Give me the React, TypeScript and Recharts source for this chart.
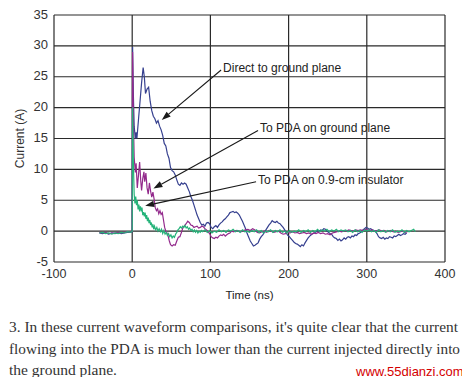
import React from 'react';
import {
  LineChart,
  Line,
  XAxis,
  YAxis,
  CartesianGrid,
  ReferenceLine,
} from 'recharts';

// [time (ns), current (A)]
const directToGround: [number, number][] = [
  [-42, -0.3], [-38, -0.4], [-34, -0.3], [-30, -0.5], [-26, -0.3], [-22, -0.4], [-18, -0.2], [-14, -0.4],
  [-10, -0.3], [-6, -0.2], [-2, -0.2], [0, -0.1], [0.5, 29.8], [1.5, 22], [2.5, 17], [4, 15], [5, 16],
  [6, 15], [8, 18], [10, 21], [12, 24], [14, 26.5], [15.5, 25], [17, 22.3], [19, 23], [21, 23.3], [23, 21],
  [25, 19.5], [27, 18.6], [29, 18.2], [31, 17.5], [33, 17.9], [35, 17], [37, 16.4], [39, 15.5], [41, 14.2],
  [43, 13.8], [45, 12.5], [47, 11.8], [49, 10.3], [51, 9.8], [53, 9.6], [55, 9.1], [57, 8.3], [59, 7.6],
  [61, 7.4], [63, 7.8], [65, 7.6], [67, 7.8], [69, 7.6], [71, 7.0], [73, 6.4], [75, 5.6], [77, 5.0],
  [79, 4.2], [81, 3.4], [83, 2.6], [85, 2.0], [87, 1.4], [89, 1.0], [91, 1.1], [93, 0.8], [95, 1.3],
  [97, 1.4], [99, 1.2], [101, 0.6], [103, 0.4], [105, 0.7], [107, 0.9], [109, 0.6], [111, 1.0], [113, 1.3],
  [115, 1.5], [117, 1.8], [119, 2.0], [121, 2.3], [123, 2.6], [125, 3.0], [127, 3.1], [129, 3.2], [131, 3.0],
  [133, 3.1], [135, 2.9], [137, 2.6], [139, 2.1], [141, 1.6], [143, 1.0], [145, 0.4], [147, -0.4], [149, -1.0],
  [151, -1.6], [153, -2.0], [155, -2.4], [157, -2.3], [159, -2.1], [161, -1.9], [163, -1.3], [165, -0.9],
  [167, -0.6], [169, -0.2], [171, 0.2], [173, 0.6], [175, 1.0], [177, 1.3], [179, 1.7], [181, 1.5], [183, 1.4],
  [185, 1.6], [187, 1.3], [189, 1.2], [191, 0.9], [193, 0.6], [195, 0.2], [197, -0.3], [199, -0.7], [201, -0.9],
  [203, -1.2], [205, -1.5], [207, -1.8], [209, -2.0], [211, -2.1], [213, -2.3], [215, -2.5], [217, -2.2],
  [219, -2.4], [221, -1.9], [223, -1.5], [225, -1.1], [227, -0.8], [229, -0.6], [231, -0.4], [233, -0.3],
  [235, -0.1], [237, 0.1], [239, 0.0], [241, 0.2], [243, 0.1], [245, 0.4], [247, 0.3], [249, 0.0], [251, -0.2],
  [253, -0.4], [255, -0.5], [257, -0.9], [259, -1.1], [261, -1.2], [263, -1.5], [265, -1.3], [267, -1.6],
  [269, -1.4], [271, -1.1], [273, -1.3], [275, -1.0], [277, -0.9], [279, -1.1], [281, -0.8], [283, -0.9],
  [285, -0.6], [287, -0.7], [289, -0.4], [291, -0.3], [293, -0.1], [295, 0.2], [297, 0.4], [299, 0.6],
  [301, 0.5], [303, 0.3], [305, 0.4], [307, 0.2], [309, 0.1], [311, 0.0], [313, -0.4], [315, -0.9], [317, -1.1],
  [319, -1.2], [321, -1.0], [323, -1.3], [325, -1.1], [327, -1.2], [329, -0.9], [331, -1.0], [333, -1.1],
  [335, -0.8], [337, -0.9], [339, -0.7], [341, -0.5], [343, -0.7], [345, -0.6], [347, -0.4], [349, -0.5],
  [351, -0.3],
];

const pdaOnGround: [number, number][] = [
  [-42, -0.2], [-38, -0.3], [-34, -0.2], [-30, -0.4], [-26, -0.3], [-22, -0.3], [-18, -0.2], [-14, -0.3],
  [-10, -0.2], [-6, -0.1], [-2, -0.2], [0, 0], [0.5, 29], [1.5, 18], [2.5, 12], [4, 9.5], [5, 11], [6.5, 7],
  [8, 9], [9.5, 11.2], [11, 8], [12, 6.6], [13.5, 8.5], [15, 9.6], [16, 8], [17.5, 9.4], [19, 7], [20.5, 6],
  [22, 7.8], [23.5, 6.5], [25, 5.5], [26.5, 6.3], [28, 5.2], [29.5, 3.8], [31, 3.3], [32.5, 3.6], [34, 2.8],
  [35.5, 3.3], [37, 2.7], [38.5, 3.0], [40, 1.8], [41.5, 0.6], [43, 0.0], [44.5, -0.3], [46, -0.8],
  [47.5, -1.6], [49, -2.2], [51, -2.4], [53, -2.2], [55, -2.3], [57, -1.6], [59, -1.0], [61, -0.9], [63, -0.2],
  [65, 0.6], [67, 0.9], [69, 1.2], [71, 1.6], [73, 1.4], [75, 1.0], [77, 0.9], [79, 0.6], [81, 0.7], [83, 0.8],
  [85, 0.5], [87, 0.6], [89, 0.8], [91, 0.7], [93, 0.4], [95, 0.2], [97, -0.1], [99, -0.4], [101, -0.9],
  [103, -1.1], [105, -1.2], [107, -1.0], [109, -1.1], [111, -0.8], [113, -0.6], [115, -0.7], [117, -0.5],
  [119, -0.8], [121, -0.6], [123, -0.4], [125, -0.3], [127, 0.0], [130, -0.1], [133, 0.1], [136, 0.0],
  [139, -0.1], [142, 0.1], [145, 0.2], [148, 0.3], [151, 0.1], [154, 0.4], [157, 0.2], [160, -0.2], [163, -0.3],
  [166, -0.1], [169, 0.0], [172, -0.2], [175, 0.1], [178, 0.0], [181, -0.2], [184, -0.1], [187, 0.0],
  [190, -0.3], [193, -0.5], [196, -0.4], [199, -0.2], [202, -0.3], [205, -0.1], [208, -0.3], [211, -0.2],
  [214, -0.4], [217, -0.3], [220, -0.2], [223, -0.4], [226, -0.3], [229, -0.5], [232, -0.3], [235, -0.4],
  [238, -0.2], [241, -0.4], [244, -0.3], [247, -0.5], [250, -0.4], [253, -0.6], [256, -0.3], [259, -0.2],
  [262, -0.1], [265, 0.0], [268, -0.1], [271, 0.1], [274, 0.0], [277, 0.2], [280, 0.1], [283, 0.0], [286, 0.2],
  [289, 0.1], [292, 0.2], [295, 0.1], [298, 0.3], [301, 0.2], [304, 0.1], [307, 0.2], [310, 0.0], [313, 0.1],
  [316, 0.2], [319, 0.0], [322, 0.1], [325, -0.1], [328, 0.0], [331, 0.1], [334, -0.1], [337, 0.0],
  [340, -0.2], [343, -0.1], [346, 0.0], [349, -0.2], [352, -0.1],
];

const pdaOnInsulator: [number, number][] = [
  [-42, -0.3], [-38, -0.2], [-34, -0.4], [-30, -0.3], [-26, -0.5], [-22, -0.3], [-18, -0.4], [-14, -0.2],
  [-10, -0.3], [-6, -0.1], [-2, -0.2], [0, 0], [0.5, 20], [1.5, 11], [2.5, 6], [3.5, 4.5], [4.5, 5.6],
  [5.5, 4.2], [6.5, 5.0], [7.5, 3.5], [8.5, 4.3], [9.5, 3.2], [10.5, 4.0], [11.5, 3.4], [12.5, 3.8],
  [13.5, 2.6], [14.5, 3.1], [15.5, 2.4], [16.5, 3.0], [17.5, 2.0], [18.5, 2.6], [19.5, 1.6], [20.5, 2.2],
  [21.5, 1.3], [22.5, 1.8], [23.5, 1.0], [24.5, 1.4], [25.5, 0.6], [26.5, 1.1], [27.5, 0.3], [28.5, 0.8],
  [30, 0.2], [31.5, 0.6], [33, 0.0], [34.5, 0.4], [36, -0.1], [37.5, 0.3], [39, -0.4], [40.5, 0.1], [42, -0.5],
  [43.5, -0.2], [45, -0.7], [46.5, -0.4], [48, -0.9], [49.5, -0.6], [51, -1.1], [52.5, -0.8], [54, -1.0],
  [55.5, -0.5], [57, -0.2], [58.5, 0.2], [60, 0.4], [61.5, 0.7], [63, 0.5], [64.5, 0.8], [66, 0.6], [67.5, 0.9],
  [69, 0.5], [70.5, 0.7], [72, 0.3], [73.5, 0.5], [75, 0.1], [76.5, 0.3], [78, -0.1], [79.5, 0.2], [81, -0.2],
  [82.5, 0.1], [84, -0.3], [85.5, 0.0], [87, -0.2], [88.5, 0.1], [90, -0.1], [93, 0.2], [96, -0.2], [99, 0.1],
  [102, -0.3], [105, 0.0], [108, -0.2], [111, 0.2], [114, -0.1], [117, 0.1], [120, -0.2], [123, 0.2], [126, 0.0],
  [129, 0.3], [132, -0.1], [135, 0.1], [138, -0.2], [141, 0.2], [144, -0.1], [147, 0.0], [150, -0.2], [153, 0.1],
  [156, -0.1], [159, 0.2], [162, -0.2], [165, 0.1], [168, -0.3], [171, 0.0], [174, -0.1], [177, 0.2],
  [180, -0.2], [183, 0.1], [186, -0.1], [189, 0.2], [192, -0.2], [195, 0.0], [198, -0.3], [201, 0.1],
  [204, -0.2], [207, 0.0], [210, -0.1], [213, 0.2], [216, -0.2], [219, 0.1], [222, -0.1], [225, 0.2],
  [228, -0.2], [231, 0.1], [234, -0.1], [237, 0.3], [240, -0.1], [243, 0.2], [246, 0.0], [249, 0.3],
  [252, -0.1], [255, 0.2], [258, 0.0], [261, 0.3], [264, -0.1], [267, 0.2], [270, 0.0], [273, 0.2],
  [276, -0.1], [279, 0.1], [282, -0.2], [285, 0.2], [288, -0.1], [291, 0.1], [294, -0.2], [297, 0.2],
  [300, 0.0], [303, 0.2], [306, -0.1], [309, 0.1], [312, -0.2], [315, 0.2], [318, -0.1], [321, 0.1],
  [324, -0.2], [327, 0.1], [330, -0.1], [333, 0.2], [336, -0.2], [339, 0.0], [342, -0.1], [345, 0.2],
  [348, -0.2], [351, 0.1], [354, -0.1], [357, 0.1], [360, 0.3], [362, -0.1],
];

const xTicks = [-100, 0, 100, 200, 300, 400];
const yTicks = [-5, 0, 5, 10, 15, 20, 25, 30, 35];

// callout label, label anchor (t, A), arrow tip (t, A)
const callouts = [
  { text: 'Direct to ground plane', from: [113.7, 26.1], to: [37.8, 18.0] },
  { text: 'To PDA on ground plane', from: [160.9, 16.3], to: [27.2, 6.9] },
  { text: 'To PDA on 0.9-cm insulator', from: [158.4, 8.0], to: [16.6, 4.1] },
];

const captionLines = [
  "3. In these current waveform comparisons, it's quite clear that the current",
  'flowing into the PDA is much lower than the current injected directly into',
  'the ground plane.',
];
const captionWidths = [449, 451, 108];

const toPoints = (rows: [number, number][]) => rows.map(([t, a]) => ({ t, a }));

const sans = '"Liberation Sans", Arial, sans-serif';

function renderCallout(p: any, text: string) {
  const { x1, y1, x2, y2 } = p;
  const dx = x2 - x1;
  const dy = y2 - y1;
  const len = Math.sqrt(dx * dx + dy * dy) || 1;
  const ux = dx / len;
  const uy = dy / len;
  const bx = x2 - ux * 9;
  const by = y2 - uy * 9;
  return (
    <g>
      <line x1={x1} y1={y1} x2={bx} y2={by} stroke="#1a1a1a" strokeWidth={1.1} />
      <polygon
        points={`${x2},${y2} ${bx - uy * 3.2},${by + ux * 3.2} ${bx + uy * 3.2},${by - ux * 3.2}`}
        fill="#1a1a1a"
      />
      <text
        x={x1 + 2}
        y={y1 - 2}
        dominantBaseline="central"
        fontSize={12}
        fontFamily={sans}
        fill="#222"
      >
        {text}
      </text>
    </g>
  );
}

export default function App() {
  return (
    <div style={{ position: 'relative', width: 470, height: 385, margin: -8, background: '#fff' }}>
      <LineChart
        width={470}
        height={305}
        margin={{ top: 15, right: 25, bottom: 0, left: 0 }}
        style={{ fontFamily: sans }}
      >
        <CartesianGrid stroke="#2a2a2a" strokeWidth={1.2} />
        <XAxis
          type="number"
          dataKey="t"
          domain={[-100, 400]}
          ticks={xTicks}
          height={43}
          axisLine={false}
          tickLine={false}
          tickSize={4}
          tickMargin={3}
          tick={{ fontSize: 12.5, fill: '#333', fontFamily: sans }}
          allowDataOverflow
          label={{ value: 'Time (ns)', position: 'center', dy: 11, fontSize: 11.5, fill: '#222', fontFamily: sans }}
        />
        <YAxis
          type="number"
          domain={[-5, 35]}
          ticks={yTicks}
          width={54}
          axisLine={false}
          tickLine={false}
          tickSize={4}
          tickMargin={2}
          tick={{ fontSize: 13, fill: '#333', fontFamily: sans, dy: -1 }}
          allowDataOverflow
          label={{ value: 'Current (A)', angle: -90, position: 'center', dx: -7, fontSize: 12, fill: '#333', fontFamily: sans }}
        />
        <Line
          data={toPoints(directToGround)}
          dataKey="a"
          stroke="#36408f"
          strokeWidth={1.2}
          dot={false}
          isAnimationActive={false}
        />
        <Line
          data={toPoints(pdaOnGround)}
          dataKey="a"
          stroke="#932a8c"
          strokeWidth={1.2}
          dot={false}
          isAnimationActive={false}
        />
        <Line
          data={toPoints(pdaOnInsulator)}
          dataKey="a"
          stroke="#26b37a"
          strokeWidth={1.2}
          dot={false}
          isAnimationActive={false}
        />
        {callouts.map((c) => (
          <ReferenceLine
            key={c.text}
            segment={[
              { x: c.from[0], y: c.from[1] },
              { x: c.to[0], y: c.to[1] },
            ]}
            shape={(p: any) => renderCallout(p, c.text)}
          />
        ))}
      </LineChart>
      <svg
        width={470}
        height={80}
        style={{ position: 'absolute', left: 0, top: 305, overflow: 'visible' }}
      >
        {captionLines.map((line, i) => (
          <text
            key={i}
            x={9}
            y={27 + i * 21.5}
            fontSize={15}
            fontFamily='"Liberation Serif", "Times New Roman", serif'
            fill="#333"
            textLength={captionWidths[i]}
            lengthAdjust="spacingAndGlyphs"
          >
            {line}
          </text>
        ))}
        <text x={356} y={71} fontSize={13} fontFamily={sans} fill="#d40000">
          www.55dianzi.com
        </text>
      </svg>
    </div>
  );
}
